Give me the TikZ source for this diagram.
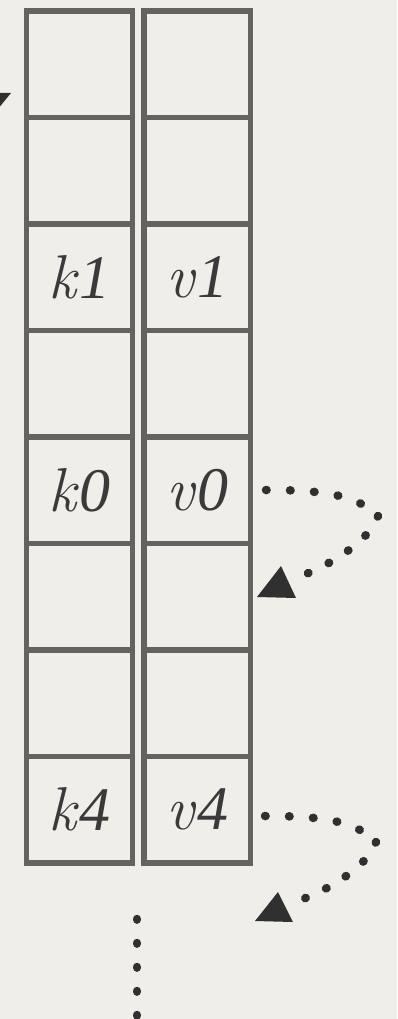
\documentclass[tikz,border=0pt]{standalone}
\usepackage{fontspec}
\usepackage{tikz}
\newfontfamily\digitfont{Liberation Serif}
\definecolor{paper}{RGB}{240,238,233}
\definecolor{gridline}{RGB}{102,99,95}
\definecolor{ink}{RGB}{58,58,58}
\definecolor{dotink}{RGB}{48,48,48}
\newcommand{\cellt}[2]{#1\kern3pt{\digitfont\itshape #2}}
\tikzset{
  cellbox/.style={draw=gridline, line width=5.3pt, rectangle, inner sep=0pt, outer sep=0pt,
    minimum height=106.5pt},
  keycell/.style={cellbox, minimum width=106pt},
  valcell/.style={cellbox, minimum width=106.5pt},
  celltext/.style={font=\fontsize{62}{64}\selectfont\itshape, text=ink, inner sep=0pt},
  dotline/.style={draw=dotink, line width=8.5pt, line cap=round, dash pattern=on 0.6pt off 23.4pt},
  dotlinetight/.style={dotline, dash pattern=on 0.6pt off 22.4pt},
  headfill/.style={fill=dotink, draw=none}
}
\begin{document}
\begin{tikzpicture}[x=1pt, y=-1pt]
  \useasboundingbox (0,0) rectangle (397,1019);
  \clip (0,0) rectangle (397,1019);
  \fill[paper] (0,0) rectangle (397,1019);
  % grid cells
  \foreach \i in {0,...,7}{
    \node[keycell] (k\i) at (79.5, 64.25+106.5*\i) {};
    \node[valcell] (v\i) at (197.25, 64.25+106.5*\i) {};
  }
  \node[celltext] (tk1) at (k2.center) {\cellt{k}{1}};
  \node[celltext] (tv1) at (v2.center) {\cellt{v}{1}};
  \node[celltext] (tk0) at (k4.center) {\cellt{k}{0}};
  \node[celltext] (tv0) at (v4.center) {\cellt{v}{0}};
  \node[celltext] (tk4) at (k7.center) {\cellt{k}{4}};
  \node[celltext] (tv4) at (v7.center) {\cellt{v}{4}};
  % incoming arrow head at top-left (partly outside)
  \fill[headfill] (-20,93) -- (11,93) -- (-5,112.5) -- cycle;
  % dotted arrow from v0
  \coordinate (a0s) at (266,490);
  \coordinate (a0m) at (378,516);
  \coordinate (a0e) at (306,574);
  \draw[dotline] (a0s) .. controls (320,490) and (356,494) .. (a0m);
  \draw[dotlinetight] (a0m) .. controls (372,536) and (340,560) .. (a0e);
  \fill[headfill] (257,597) -- (296,598) -- (281,566) -- cycle;
  % dotted arrow from v4
  \coordinate (a4s) at (265,816);
  \coordinate (a4m) at (376,842);
  \coordinate (a4e) at (303,899);
  \draw[dotline] (a4s) .. controls (319,816) and (355,820) .. (a4m);
  \draw[dotlinetight] (a4m) .. controls (370,862) and (337,886) .. (a4e);
  \fill[headfill] (255,921) -- (293,922) -- (278,892) -- cycle;
  % vertical dotted line below
  \coordinate (vs) at (137,919);
  \coordinate (ve) at (137,1030);
  \draw[dotline] (vs) -- (ve);
\end{tikzpicture}
\end{document}
